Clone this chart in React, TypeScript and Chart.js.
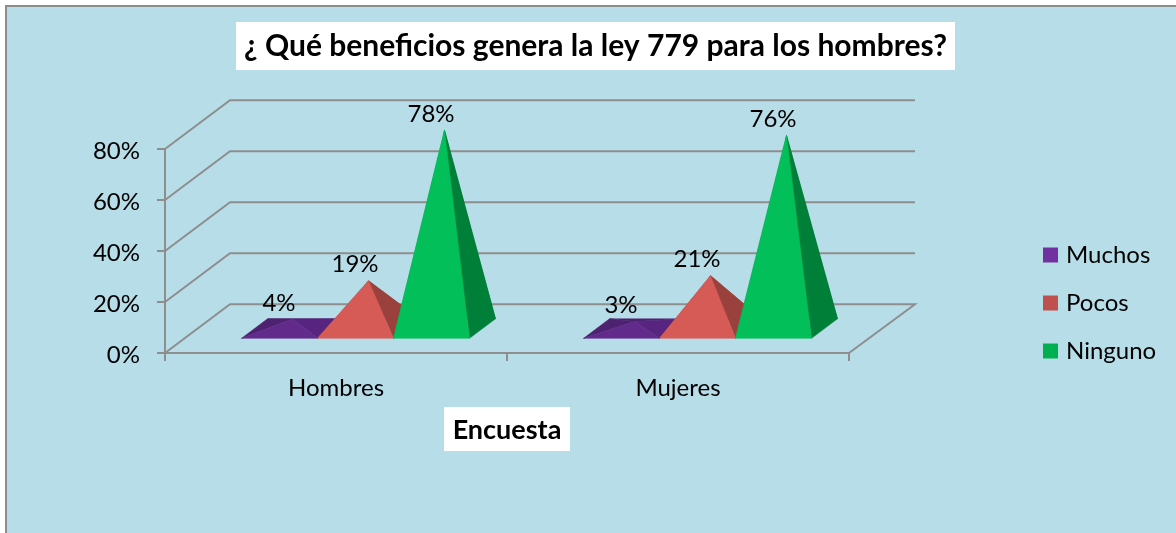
import React, { useEffect, useRef } from "react";
import { Chart, registerables, BarController } from "chart.js";

Chart.register(...registerables);

const categories = ["Hombres", "Mujeres"];
const seriesNames = ["Muchos", "Pocos", "Ninguno"];
const muchos = [4, 3];
const pocos = [19, 21];
const ninguno = [78, 76];
const yTicks = [0, 20, 40, 60, 80];
const chartTitle = "¿ Qué beneficios genera la ley 779 para los hombres?";
const axisTitle = "Encuesta";

const FONT = "Lato, 'Open Sans', sans-serif";
const BG = "#B7DDE8";
const LINE = "#8E8E8E";
const legendColors = ["#7030A0", "#C0504D", "#00B050"];
const faceColors = [
  { front: "#622A8A", left: "#4E2271", right: "#57257F", back: "#4E2271" },
  { front: "#D65B57", left: "#B04A47", right: "#9A403D", back: "#9A403D" },
  { front: "#03BF5A", left: "#02A04B", right: "#007F38", back: "#007F38" },
];

// 3-D projection of the box
const DX = 65;
const DY = -48.8;
const BASE_FRONT = 0.3;
const BASE_BACK = 0.7;

class PyramidController extends BarController {
  static id = "pyramid";
  static defaults = BarController.defaults;
  static overrides = BarController.overrides;
  draw() {}
}
Chart.register(PyramidController);

function poly(ctx: CanvasRenderingContext2D, pts: number[][], color: string) {
  ctx.beginPath();
  pts.forEach((p, i) => (i ? ctx.lineTo(p[0], p[1]) : ctx.moveTo(p[0], p[1])));
  ctx.closePath();
  ctx.fillStyle = color;
  ctx.strokeStyle = color;
  ctx.lineWidth = 0.5;
  ctx.fill();
  ctx.stroke();
}

const scene = {
  id: "scene",
  beforeDraw(chart: any) {
    const { ctx, width, height } = chart;
    ctx.save();
    ctx.fillStyle = "#FFFFFF";
    ctx.fillRect(0, 0, width, height);
    ctx.fillStyle = BG;
    ctx.fillRect(6, 7, width - 6, height - 7);
    ctx.fillStyle = "#8C8C8C";
    ctx.fillRect(5, 5, width - 5, 2);
    ctx.fillRect(5, 5, 2, height - 5);
    // white boxes behind the two titles
    ctx.fillStyle = "#FFFFFF";
    ctx.fillRect(236, 22, 719, 48);
    ctx.fillRect(444, 407, 126, 44);
    ctx.restore();
  },
  beforeDatasetsDraw(chart: any) {
    const { ctx, scales } = chart;
    const y = scales.y;
    const x = scales.x;
    const L = x.left;
    const R = x.right;
    ctx.save();
    ctx.strokeStyle = LINE;
    ctx.lineWidth = 2;
    yTicks.forEach((t) => {
      const py = y.getPixelForValue(t);
      ctx.beginPath();
      ctx.moveTo(L, py);
      ctx.lineTo(L + DX, py + DY);
      ctx.lineTo(R + DX + 1, py + DY);
      if (t === 0) ctx.lineTo(R, py);
      ctx.stroke();
    });
    ctx.restore();
  },
  afterDatasetsDraw(chart: any) {
    const { ctx, scales } = chart;
    const zero = scales.y.getPixelForValue(0);
    ctx.save();
    chart.data.datasets.forEach((ds: any, di: number) => {
      const meta = chart.getDatasetMeta(di);
      const c = faceColors[di];
      meta.data.forEach((bar: any, i: number) => {
        const half = bar.width / 2;
        const off = (f: number, px: number) => [px + DX * f, zero + DY * f];
        const fl = off(BASE_FRONT, bar.x - half);
        const fr = off(BASE_FRONT, bar.x + half);
        const bl = off(BASE_BACK, bar.x - half);
        const br = off(BASE_BACK, bar.x + half);
        const mid = (BASE_FRONT + BASE_BACK) / 2;
        const apex = [bar.x + DX * mid, bar.y + DY * mid + 0.6];
        poly(ctx, [bl, br, apex], c.back);
        poly(ctx, [fl, bl, apex], c.left);
        poly(ctx, [fr, br, apex], c.right);
        poly(ctx, [fl, fr, apex], c.front);
        ctx.fillStyle = "#000000";
        ctx.font = `24px ${FONT}`;
        ctx.textAlign = "center";
        ctx.textBaseline = "middle";
        ctx.fillText(`${ds.data[i]}%`, apex[0] - 13.5, apex[1] - 16);
      });
    });
    ctx.font = `bold 27px ${FONT}`;
    ctx.fillStyle = "#000000";
    ctx.textAlign = "center";
    ctx.textBaseline = "middle";
    ctx.fillText(axisTitle, 507, 430);
    ctx.restore();
  },
  afterLayout(chart: any) {
    const lg = chart.legend;
    if (lg) {
      lg.left = 1023;
      lg.right = 1176;
      lg.top = 219;
      lg.bottom = 533;
      lg.adjustHitBoxes();
    }
    const t = chart.titleBlock;
    if (t) {
      t.left = 236;
      t.right = 955;
      t.top = 28;
      t.bottom = 68;
    }
    // nudge the value-axis labels down onto their tick marks
    const ys = chart.scales.y;
    ys._labelItems = ys._computeLabelItems(chart.chartArea);
    ys._labelItems.forEach((item: any) => {
      item.options.translation = [item.options.translation[0], item.options.translation[1] + 2];
    });
  },
};

export default function App() {
  const ref = useRef<HTMLCanvasElement>(null);
  useEffect(() => {
    const chart = new Chart(ref.current!, {
      type: "pyramid" as any,
      data: {
        labels: categories,
        datasets: [muchos, pocos, ninguno].map((data, i) => ({
          label: seriesNames[i],
          data,
          backgroundColor: legendColors[i],
          borderWidth: 0,
          categoryPercentage: 2 / 3,
          barPercentage: 1,
        })),
      },
      plugins: [scene],
      options: {
        animation: false,
        responsive: false,
        layout: { padding: { top: 113, right: 327, bottom: 0, left: 0 } },
        plugins: {
          tooltip: { enabled: false },
          title: {
            display: true,
            text: chartTitle,
            color: "#000000",
            font: { family: FONT, size: 30, weight: "bold" },
            padding: 0,
            position: "top",
          },
          legend: {
            display: true,
            position: "chartArea" as any,
            align: "start",
            labels: {
              usePointStyle: true,
              pointStyle: "rect",
              boxWidth: 7,
              boxHeight: 15,
              padding: 24,
              color: "#000000",
              font: { family: FONT, size: 24 },
              generateLabels: () =>
                seriesNames.map((text, i) => ({
                  text,
                  fillStyle: legendColors[i],
                  strokeStyle: legendColors[i],
                  lineWidth: 0,
                  pointStyle: "rect",
                  hidden: false,
                  datasetIndex: i,
                  fontColor: "#000000",
                })),
            },
          },
        },
        scales: {
          x: {
            afterFit: (s: any) => { s.height = 180; },
            grid: {
              display: true,
              drawOnChartArea: false,
              drawTicks: true,
              tickLength: 8,
              color: LINE,
              lineWidth: 2,
              offset: true,
            },
            border: { display: true, color: LINE, width: 2 },
            ticks: { color: "#000000", font: { family: FONT, size: 24 }, padding: 13, maxRotation: 0 },
          },
          y: {
            min: 0,
            max: 80,
            afterFit: (s: any) => { s.width = 165; },
            afterBuildTicks: (s: any) => { s.ticks = yTicks.map((value) => ({ value })); },
            grid: {
              display: true,
              drawOnChartArea: false,
              drawTicks: true,
              tickLength: 8,
              color: LINE,
              lineWidth: 2,
            },
            border: { display: true, color: LINE, width: 2 },
            ticks: {
              color: "#000000",
              font: { family: FONT, size: 24 },
              padding: 17,
              callback: (v: any) => `${v}%`,
            },
          },
        },
      } as any,
    });
    return () => chart.destroy();
  }, []);
  return (
    <canvas
      ref={ref}
      width={1176}
      height={533}
      style={{ position: "fixed", left: 0, top: 0, width: 1176, height: 533, display: "block" }}
    />
  );
}
